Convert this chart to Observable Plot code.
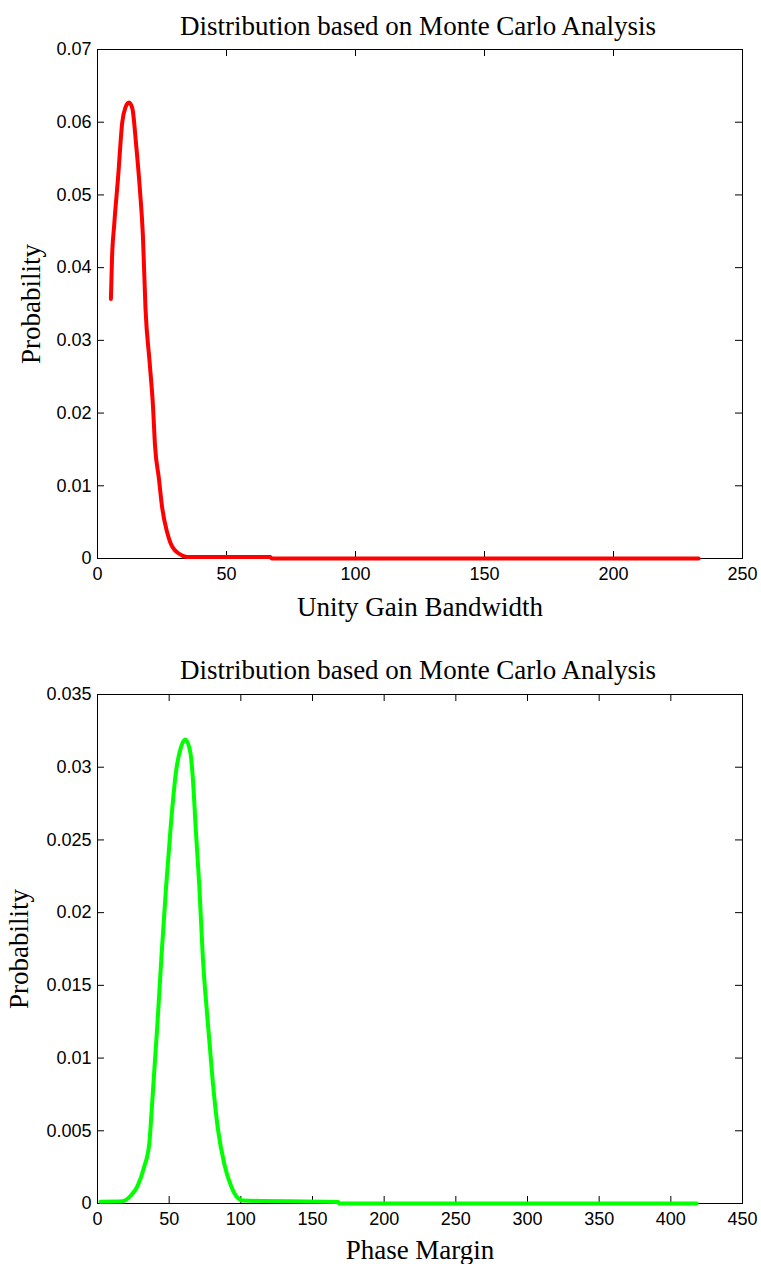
<!DOCTYPE html>
<html><head><meta charset="utf-8">
<script src="https://cdn.jsdelivr.net/npm/d3@7"></script>
<script src="https://cdn.jsdelivr.net/npm/@observablehq/plot@0.6"></script>
<style>
body{margin:0;background:#fff;}
svg{display:block}
</style></head><body><div id="c"></div>
<script>
const chartTitle = "Distribution based on Monte Carlo Analysis";
const yLabel = "Probability";

// Unity Gain Bandwidth distribution (red)
const ugbLabel = "Unity Gain Bandwidth";
const ugbX = [5.2, 5.6, 6.5, 8.0, 9.6, 10.8, 12.2, 13.5, 15.0, 16.4, 17.6, 18.6, 20.2, 21.5, 22.3, 23.8, 25.1, 27.0, 29.0, 32.9, 35, 67, 67.5, 233];
const ugbP = [0.0357, 0.0410, 0.0460, 0.0525, 0.0600, 0.0620, 0.0627, 0.0619, 0.0568, 0.0509, 0.0444, 0.0344, 0.0270, 0.0210, 0.0155, 0.0110, 0.0069, 0.0036, 0.0016, 0.0004, 0.0002, 0.0002, 0, 0];
const ugbXTicks = [0, 50, 100, 150, 200, 250];
const ugbYTicks = [0, 0.01, 0.02, 0.03, 0.04, 0.05, 0.06, 0.07];

// Phase Margin distribution (green)
const pmLabel = "Phase Margin";
const pmX = [2, 17.4, 23.3, 27.9, 32.5, 36.1, 37.8, 39.6, 41.9, 44.7, 47.8, 51.3, 54.8, 58.3, 61.3, 64.8, 66.4, 68.7, 71.1, 73.4, 76.9, 80.4, 83.9, 88.5, 93.2, 95.5, 101.4, 168, 168.5, 418];
const pmP = [0.00012, 0.00015, 0.00055, 0.0012, 0.0025, 0.0041, 0.0064, 0.0091, 0.0125, 0.0171, 0.0217, 0.0262, 0.0297, 0.0314, 0.0319, 0.0310, 0.0294, 0.0255, 0.0217, 0.0171, 0.0125, 0.0084, 0.0052, 0.0027, 0.0012, 0.0007, 0.0002, 0.0001, 0, 0];
const pmXTicks = [0, 50, 100, 150, 200, 250, 300, 350, 400, 450];
const pmYTicks = [0, 0.005, 0.01, 0.015, 0.02, 0.025, 0.03, 0.035];

const serif = {fontFamily: "Liberation Serif, Times New Roman, serif", fontSize: 27, fill: "#000", textAnchor: "middle", lineAnchor: "middle"};

function chart({xs, ys, color, xTicks, yTicks, xLabel, height, marginTop, marginBottom, yLabelDx, titleDy, xLabelDy}) {
  const data = xs.map((x, i) => ({x, y: ys[i]}));
  const W = 761, mL = 97, mR = 19;
  const pw = W - mL - mR, ph = height - marginTop - marginBottom;
  const tl = 7;
  return Plot.plot({
    width: W, height, marginLeft: mL, marginRight: mR, marginTop, marginBottom,
    style: {fontFamily: "Liberation Sans, Arial, sans-serif", fontSize: "18px", color: "#000", background: "#fff", overflow: "visible"},
    x: {domain: [xTicks[0], xTicks[xTicks.length - 1]]},
    y: {domain: [yTicks[0], yTicks[yTicks.length - 1]]},
    marks: [
      Plot.frame({stroke: "#000", strokeWidth: 1}),
      Plot.tickX(xTicks, {x: d => d, insetTop: ph - tl, stroke: "#000"}),
      Plot.tickX(xTicks, {x: d => d, insetBottom: ph - tl, stroke: "#000"}),
      Plot.tickY(yTicks, {y: d => d, insetRight: pw - tl, stroke: "#000"}),
      Plot.tickY(yTicks, {y: d => d, insetLeft: pw - tl, stroke: "#000"}),
      Plot.axisX(xTicks, {tickSize: 0, tickPadding: 9, tickFormat: d => String(d), label: null, fontSize: 18}),
      Plot.axisY(yTicks, {tickSize: 0, tickPadding: 6, tickFormat: d => String(d), label: null, fontSize: 18}),
      Plot.line(data, {x: "x", y: "y", stroke: color, strokeWidth: 4, curve: "monotone-x"}),
      Plot.text([chartTitle], {frameAnchor: "top", dy: titleDy, dx: -2, ...serif}),
      Plot.text([xLabel], {frameAnchor: "bottom", dy: xLabelDy, ...serif}),
      Plot.text([yLabel], {frameAnchor: "left", dx: yLabelDx, rotate: -90, ...serif})
    ]
  });
}

const c = document.getElementById("c");
c.appendChild(chart({xs: ugbX, ys: ugbP, color: "#ff0000", xTicks: ugbXTicks, yTicks: ugbYTicks, xLabel: ugbLabel,
  height: 632, marginTop: 49, marginBottom: 74, yLabelDx: -66, titleDy: -23, xLabelDy: 49}));
c.appendChild(chart({xs: pmX, ys: pmP, color: "#00ff00", xTicks: pmXTicks, yTicks: pmYTicks, xLabel: pmLabel,
  height: 632, marginTop: 62, marginBottom: 61, yLabelDx: -78, titleDy: -24, xLabelDy: 47}));
</script>
</body></html>
